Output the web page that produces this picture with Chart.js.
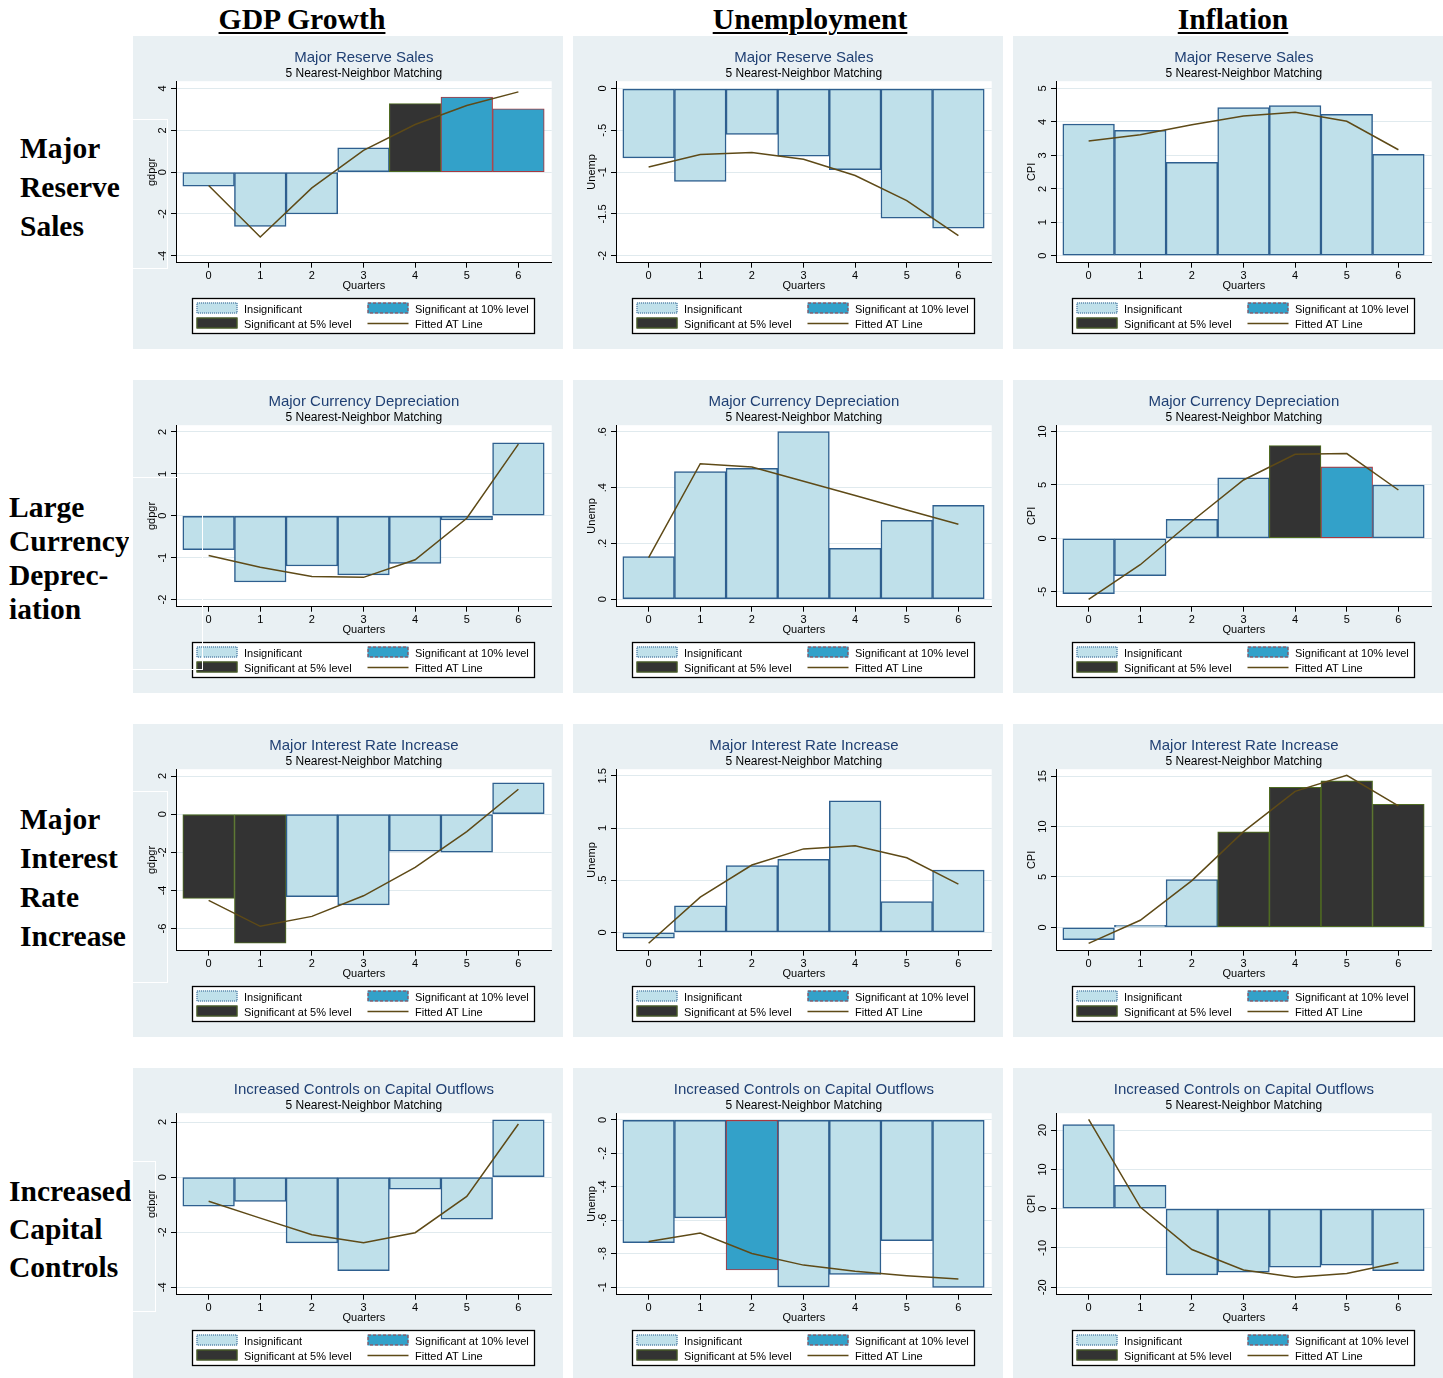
<!DOCTYPE html>
<html><head><meta charset="utf-8">
<script src="https://cdn.jsdelivr.net/npm/chart.js@4.4.1/dist/chart.umd.min.js"></script>
<style>
html,body{margin:0;padding:0;background:#fff;width:1443px;height:1378px;overflow:hidden;position:relative;}
canvas.panel{position:absolute;}
.hdr{position:absolute;top:2px;font-family:'Liberation Serif','Times New Roman',serif;font-weight:bold;font-size:29.7px;line-height:34px;text-decoration:underline;text-decoration-thickness:2px;text-underline-offset:3px;transform:translateX(-50%);white-space:nowrap;color:#000;}
.rowlab{position:absolute;font-family:'Liberation Serif','Times New Roman',serif;font-weight:bold;font-size:29.5px;color:#000;white-space:nowrap;}
.art{position:absolute;border:1.5px solid #fff;box-sizing:border-box;pointer-events:none;z-index:5;}
</style></head><body>
<script>
// ---------------- DATA ----------------
const quarters = [0, 1, 2, 3, 4, 5, 6];
const xTickValues = [0, 1, 2, 3, 4, 5, 6];
const colHeaders = ['GDP Growth', 'Unemployment', 'Inflation'];
const rowTitles = ['Major Reserve Sales', 'Major Currency Depreciation', 'Major Interest Rate Increase', 'Increased Controls on Capital Outflows'];
const rowLabels = [['Major', 'Reserve', 'Sales'], ['Large', 'Currency', 'Deprec-', 'iation'], ['Major', 'Interest', 'Rate', 'Increase'], ['Increased', 'Capital', 'Controls']];
const subtitleText = '5 Nearest-Neighbor Matching';
const yTitles = ['gdpgr', 'Unemp', 'CPI'];
const xTitle = 'Quarters';
const legendLabels = ['Insignificant', 'Significant at 10% level', 'Significant at 5% level', 'Fitted AT Line'];

// significance: 'ns' insignificant, 's10' significant at 10%, 's5' significant at 5%
const reserveGdpBars = [-0.67, -2.6, -2.0, 1.16, 3.28, 3.59, 3.03];
const reserveGdpFit = [-0.64, -3.1, -0.75, 1.04, 2.28, 3.19, 3.84];
const reserveGdpSig = ['ns', 'ns', 'ns', 'ns', 's5', 's10', 's10'];

const reserveUnempBars = [-0.83, -1.11, -0.55, -0.81, -0.97, -1.55, -1.67];
const reserveUnempFit = [-0.94, -0.79, -0.765, -0.845, -1.04, -1.34, -1.76];
const reserveUnempSig = ['ns', 'ns', 'ns', 'ns', 'ns', 'ns', 'ns'];

const reserveCpiBars = [3.94, 3.75, 2.79, 4.43, 4.49, 4.23, 3.03];
const reserveCpiFit = [3.43, 3.62, 3.92, 4.18, 4.29, 4.02, 3.17];
const reserveCpiSig = ['ns', 'ns', 'ns', 'ns', 'ns', 'ns', 'ns'];

const deprecGdpBars = [-0.81, -1.58, -1.2, -1.41, -1.14, -0.10, 1.74];
const deprecGdpFit = [-0.95, -1.23, -1.45, -1.47, -1.05, -0.06, 1.71];
const deprecGdpSig = ['ns', 'ns', 'ns', 'ns', 'ns', 'ns', 'ns'];

const deprecUnempBars = [0.153, 0.458, 0.469, 0.601, 0.182, 0.283, 0.337];
const deprecUnempFit = [0.149, 0.486, 0.474, 0.423, 0.372, 0.32, 0.269];
const deprecUnempSig = ['ns', 'ns', 'ns', 'ns', 'ns', 'ns', 'ns'];

const deprecCpiBars = [-5.19, -3.5, 1.78, 5.66, 8.69, 6.69, 5.0];
const deprecCpiFit = [-5.72, -2.47, 1.6, 5.47, 7.88, 7.94, 4.53];
const deprecCpiSig = ['ns', 'ns', 'ns', 'ns', 's5', 's10', 'ns'];

const rateGdpBars = [-4.42, -6.77, -4.33, -4.76, -1.94, -1.99, 1.64];
const rateGdpFit = [-4.52, -5.88, -5.36, -4.28, -2.79, -0.91, 1.31];
const rateGdpSig = ['s5', 's5', 'ns', 'ns', 'ns', 'ns', 'ns'];

const rateUnempBars = [-0.057, 0.255, 0.64, 0.70, 1.26, 0.294, 0.597];
const rateUnempFit = [-0.105, 0.338, 0.645, 0.80, 0.83, 0.715, 0.463];
const rateUnempSig = ['ns', 'ns', 'ns', 'ns', 'ns', 'ns', 'ns'];

const rateCpiBars = [-1.22, 0.2, 4.73, 9.47, 13.9, 14.54, 12.22];
const rateCpiFit = [-1.59, 0.70, 4.64, 9.5, 13.5, 15.1, 12.05];
const rateCpiSig = ['ns', 'ns', 'ns', 's5', 's5', 's5', 's5'];

const controlsGdpBars = [-1.06, -0.88, -2.39, -3.4, -0.44, -1.53, 2.08];
const controlsGdpFit = [-0.88, -1.49, -2.09, -2.38, -2.02, -0.70, 1.93];
const controlsGdpSig = ['ns', 'ns', 'ns', 'ns', 'ns', 'ns', 'ns'];

const controlsUnempBars = [-0.735, -0.586, -0.898, -1.0, -0.924, -0.723, -1.002];
const controlsUnempFit = [-0.727, -0.677, -0.799, -0.869, -0.906, -0.932, -0.952];
const controlsUnempSig = ['ns', 'ns', 's10', 'ns', 'ns', 'ns', 'ns'];

const controlsCpiBars = [21.4, 5.93, -16.86, -16.19, -14.9, -14.4, -15.76];
const controlsCpiFit = [22.7, 0.42, -10.4, -15.6, -17.46, -16.5, -13.7];
const controlsCpiSig = ['ns', 'ns', 'ns', 'ns', 'ns', 'ns', 'ns'];

// y-axis tick values per panel
const reserveGdpTicks = [-4, -2, 0, 2, 4];
const reserveUnempTicks = [-2, -1.5, -1, -0.5, 0];
const reserveCpiTicks = [0, 1, 2, 3, 4, 5];
const deprecGdpTicks = [-2, -1, 0, 1, 2];
const deprecUnempTicks = [0, 0.2, 0.4, 0.6];
const deprecCpiTicks = [-5, 0, 5, 10];
const rateGdpTicks = [-6, -4, -2, 0, 2];
const rateUnempTicks = [0, 0.5, 1, 1.5];
const rateCpiTicks = [0, 5, 10, 15];
const controlsGdpTicks = [-4, -2, 0, 2];
const controlsUnempTicks = [-1, -0.8, -0.6, -0.4, -0.2, 0];
const controlsCpiTicks = [-20, -10, 0, 10, 20];

// y-axis ranges [min, max] per panel
const reserveGdpRange = [-4.33, 4.35];
const reserveUnempRange = [-2.084, 0.088];
const reserveCpiRange = [-0.21, 5.22];
const deprecGdpRange = [-2.17, 2.16];
const deprecUnempRange = [-0.027, 0.624];
const deprecCpiRange = [-6.4, 10.6];
const rateGdpRange = [-7.16, 2.36];
const rateUnempRange = [-0.176, 1.564];
const rateCpiRange = [-2.32, 15.7];
const controlsGdpRange = [-4.27, 2.32];
const controlsUnempRange = [-1.046, 0.04];
const controlsCpiRange = [-21.9, 24.3];
const xRange = [-0.632, 6.645];

// ---------------- STYLE ----------------
const FONT = "'Liberation Sans', Arial, Helvetica, sans-serif";
const PANEL_BG = '#e9f0f3';
const GRID = '#e0eaee';
const TITLE_COLOR = '#1f3f73';
const LINE_COLOR = '#5e4a17';
const FILL = { ns: '#bfe0ea', s10: '#33a1c9', s5: '#333333' };
const EDGE = { ns: '#2e5f8f', s10: '#a8383f', s5: '#4f6b22' };
const EDGE_W = { ns: 1.5, s10: 1.1, s5: 1.1 };

const panelDefs = [
  [reserveGdpBars, reserveGdpFit, reserveGdpSig, reserveGdpTicks, reserveGdpRange],
  [reserveUnempBars, reserveUnempFit, reserveUnempSig, reserveUnempTicks, reserveUnempRange],
  [reserveCpiBars, reserveCpiFit, reserveCpiSig, reserveCpiTicks, reserveCpiRange],
  [deprecGdpBars, deprecGdpFit, deprecGdpSig, deprecGdpTicks, deprecGdpRange],
  [deprecUnempBars, deprecUnempFit, deprecUnempSig, deprecUnempTicks, deprecUnempRange],
  [deprecCpiBars, deprecCpiFit, deprecCpiSig, deprecCpiTicks, deprecCpiRange],
  [rateGdpBars, rateGdpFit, rateGdpSig, rateGdpTicks, rateGdpRange],
  [rateUnempBars, rateUnempFit, rateUnempSig, rateUnempTicks, rateUnempRange],
  [rateCpiBars, rateCpiFit, rateCpiSig, rateCpiTicks, rateCpiRange],
  [controlsGdpBars, controlsGdpFit, controlsGdpSig, controlsGdpTicks, controlsGdpRange],
  [controlsUnempBars, controlsUnempFit, controlsUnempSig, controlsUnempTicks, controlsUnempRange],
  [controlsCpiBars, controlsCpiFit, controlsCpiSig, controlsCpiTicks, controlsCpiRange]
];

function stataLabel(v) {
  let s = String(Math.round(v * 1000) / 1000);
  return s.replace(/^0\./, '.').replace(/^-0\./, '-.');
}

const bgPlugin = {
  id: 'panelBg',
  beforeDraw(chart) {
    const { ctx, chartArea: a } = chart;
    ctx.save();
    ctx.fillStyle = PANEL_BG;
    ctx.fillRect(0, 0, chart.width, chart.height);
    ctx.fillStyle = '#ffffff';
    ctx.fillRect(a.left, a.top, a.right - a.left, a.bottom - a.top);
    ctx.restore();
  }
};

const yLabelPlugin = {
  id: 'yRotLabels',
  afterDraw(chart) {
    const s = chart.scales.y;
    const ctx = chart.ctx;
    ctx.save();
    ctx.font = '11px ' + FONT;
    ctx.fillStyle = '#000';
    ctx.textAlign = 'center';
    ctx.textBaseline = 'middle';
    s.ticks.forEach(t => {
      const y = s.getPixelForValue(t.value);
      ctx.save();
      ctx.translate(s.right - 13.5, y);
      ctx.rotate(-Math.PI / 2);
      ctx.fillText(stataLabel(t.value), 0, 0);
      ctx.restore();
    });
    ctx.restore();
  }
};

const legendPlugin = {
  id: 'stataLegend',
  afterDraw(chart) {
    const ctx = chart.ctx;
    ctx.save();
    ctx.fillStyle = '#fff';
    ctx.fillRect(59.5, 262.5, 342, 35);
    ctx.strokeStyle = '#000';
    ctx.lineWidth = 1.3;
    ctx.strokeRect(59.5, 262.5, 342, 35);
    function sw(x, y, k, dash) {
      ctx.fillStyle = FILL[k];
      ctx.fillRect(x, y, 41, 11);
      ctx.setLineDash(dash);
      ctx.strokeStyle = EDGE[k];
      ctx.lineWidth = 1;
      ctx.strokeRect(x + 0.5, y + 0.5, 40, 10);
      ctx.setLineDash([]);
    }
    sw(63.5, 266.5, 'ns', [1, 1]);
    sw(234.5, 266.5, 's10', [3, 2]);
    sw(63.5, 281.5, 's5', []);
    ctx.strokeStyle = LINE_COLOR;
    ctx.lineWidth = 1.5;
    ctx.beginPath();
    ctx.moveTo(234.5, 287.5);
    ctx.lineTo(275.5, 287.5);
    ctx.stroke();
    ctx.fillStyle = '#000';
    ctx.font = '11px ' + FONT;
    ctx.textAlign = 'left';
    ctx.textBaseline = 'middle';
    ctx.fillText(legendLabels[0], 111, 273.8);
    ctx.fillText(legendLabels[1], 282, 273.8);
    ctx.fillText(legendLabels[2], 111, 288.5);
    ctx.fillText(legendLabels[3], 282, 288.5);
    ctx.restore();
  }
};

const panelLeft = [133, 573, 1013];
const panelTop = [36, 380, 724, 1068];

// headers
const hdrX = [302, 810, 1233];
colHeaders.forEach((h, i) => {
  const d = document.createElement('div');
  d.className = 'hdr';
  d.style.left = hdrX[i] + 'px';
  d.textContent = h;
  document.body.appendChild(d);
});

// row labels
const rowLabelLeft = [20, 9, 20, 9];
const rowLabelTop = [129, 490, 800, 1172];
const rowLabelLH = [39, 34, 39, 38];
rowLabels.forEach((lines, r) => {
  lines.forEach((t, j) => {
    const d = document.createElement('div');
    d.className = 'rowlab';
    d.style.left = rowLabelLeft[r] + 'px';
    d.style.top = (rowLabelTop[r] + j * rowLabelLH[r]) + 'px';
    d.style.lineHeight = rowLabelLH[r] + 'px';
    d.textContent = t;
    document.body.appendChild(d);
  });
});

panelDefs.forEach((p, idx) => {
  const r = Math.floor(idx / 3), c = idx % 3;
  const [bars, fit, sig, yt, yr] = p;
  const cv = document.createElement('canvas');
  cv.className = 'panel';
  cv.width = 430; cv.height = 313;
  cv.style.left = panelLeft[c] + 'px';
  cv.style.top = panelTop[r] + 'px';
  document.body.appendChild(cv);
  new Chart(cv, {
    type: 'bar',
    data: {
      datasets: [
        {
          type: 'line', label: legendLabels[3],
          data: quarters.map((q, i) => ({ x: q, y: fit[i] })),
          borderColor: LINE_COLOR, borderWidth: 1.5, pointRadius: 0, tension: 0, order: 0
        },
        {
          type: 'bar', label: legendLabels[0],
          data: quarters.map((q, i) => ({ x: q, y: bars[i] })),
          backgroundColor: sig.map(s => FILL[s]),
          borderColor: sig.map(s => EDGE[s]),
          borderWidth: sig.map(s => EDGE_W[s]),
          borderSkipped: false, barPercentage: 1, categoryPercentage: 1, order: 1
        }
      ]
    },
    options: {
      responsive: false, animation: false, devicePixelRatio: 1,
      events: [],
      layout: { padding: { left: 0, right: 11.3, top: 0, bottom: 56.7 } },
      plugins: {
        legend: { display: false },
        tooltip: { enabled: false },
        title: {
          display: true, text: rowTitles[r], fullSize: false, color: TITLE_COLOR,
          font: { family: FONT, size: 15, weight: 'normal' }, padding: { top: 12.5, bottom: 0 }
        },
        subtitle: {
          display: true, text: subtitleText, fullSize: false, color: '#000',
          font: { family: FONT, size: 12, weight: 'normal' }, padding: { top: 0.3, bottom: 0 }
        }
      },
      scales: {
        x: {
          type: 'linear', min: xRange[0], max: xRange[1], offset: false,
          afterBuildTicks: s => { s.ticks = xTickValues.map(v => ({ value: v })); },
          afterFit: s => { s.height = 29.6; },
          grid: { offset: false, drawOnChartArea: false, drawTicks: true, tickLength: 5, tickColor: '#000', tickWidth: 1 },
          border: { display: true, color: '#000', width: 1 },
          ticks: { padding: 1.8, color: '#000', font: { family: FONT, size: 11 }, maxRotation: 0, autoSkip: false, callback: v => String(v) },
          title: { display: true, text: xTitle, color: '#000', font: { family: FONT, size: 11 }, padding: { top: 0, bottom: 0 } }
        },
        y: {
          type: 'linear', min: yr[0], max: yr[1],
          afterBuildTicks: s => { s.ticks = yt.map(v => ({ value: v })); },
          afterFit: s => { s.width = 43; },
          grid: { color: GRID, lineWidth: 1, drawTicks: true, tickLength: 5, tickColor: '#000', tickWidth: 1 },
          border: { display: true, color: '#000', width: 1 },
          ticks: { display: false },
          title: { display: true, text: yTitles[c], color: '#000', font: { family: FONT, size: 11 }, padding: { top: 12.4, bottom: 0 } }
        }
      }
    },
    plugins: [bgPlugin, yLabelPlugin, legendPlugin]
  });
});

// white outline artifacts present in the original composite
const artifacts = [[131, 119, 37, 150], [129, 477, 74, 193], [131, 791, 37, 192], [131, 1161, 25, 151]];
artifacts.forEach(a => {
  const d = document.createElement('div');
  d.className = 'art';
  d.style.left = a[0] + 'px'; d.style.top = a[1] + 'px';
  d.style.width = a[2] + 'px'; d.style.height = a[3] + 'px';
  document.body.appendChild(d);
});
</script>
</body></html>
